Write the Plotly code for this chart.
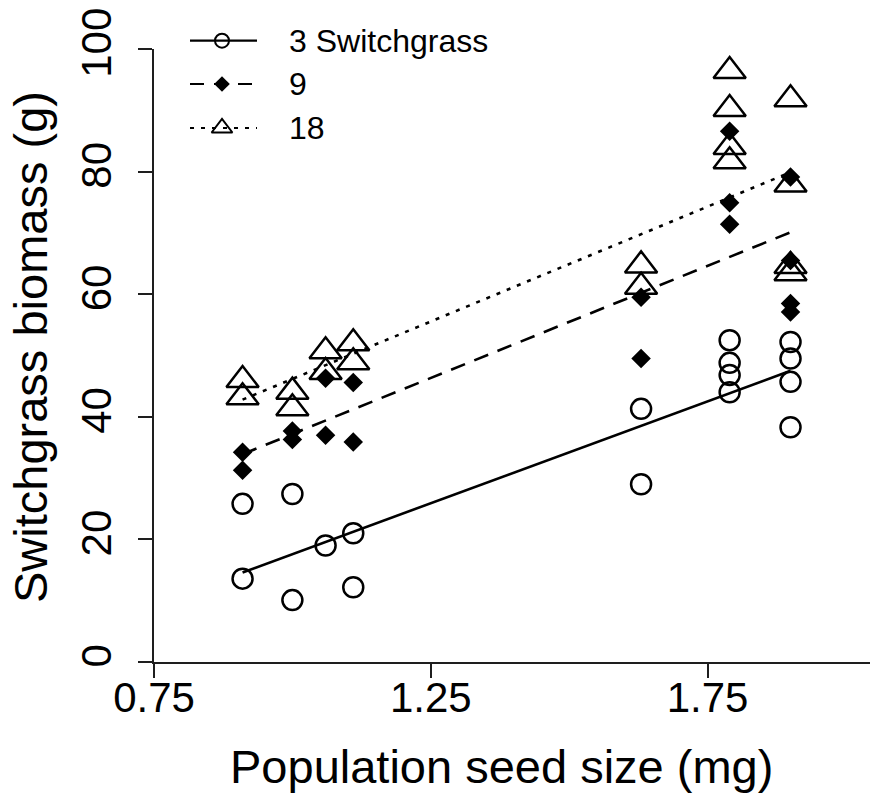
import plotly.graph_objects as go

# Population mean seed size (mg)
seed_size = [0.91, 1.00, 1.06, 1.11, 1.63, 1.79, 1.90]

# Switchgrass biomass (g) at each planting density, grouped by population
biomass_3 = [[25.8, 13.6], [27.4, 10.1], [19.0], [21.0, 12.2], [41.3, 29.0],
             [52.5, 48.8, 46.8, 44.0], [52.2, 49.5, 45.7, 38.3]]
biomass_9 = [[34.2, 31.3], [37.7, 36.3], [46.3, 37.0], [45.6, 35.9], [59.5, 49.5],
             [86.6, 74.9, 71.4], [79.1, 65.5, 58.5, 57.1]]
biomass_18 = [[46.0, 43.2], [44.1, 41.4], [50.7, 47.3], [52.0, 48.9], [64.7, 61.2],
              [96.4, 90.2, 84.0, 81.7], [91.8, 77.9, 64.6, 63.4]]

# Fitted regression lines: biomass at the smallest and largest seed size
fit_3 = [14.6, 47.5]
fit_9 = [33.9, 70.1]
fit_18 = [42.8, 79.9]

legend_labels = ["3 Switchgrass", "9", "18"]

W, H = 870, 797
FONT = "Liberation Sans, Arial, Helvetica, sans-serif"
INK = "black"
AXIS = "#1e1e1e"

# plot box in pixels
PX_L, PX_R, PX_T, PX_B = 154, 870, 49, 662
X0, PX_PER_MG = 0.75, 553.5


def flatten(groups):
    xs, ys = [], []
    for x, vals in zip(seed_size, groups):
        for v in vals:
            xs.append(x)
            ys.append(v)
    return xs, ys


fig = go.Figure()

line_styles = [
    (fit_3, "solid"),
    (fit_9, "15px,10px"),
    (fit_18, "4px,7px"),
]
for fit, dash in line_styles:
    fig.add_trace(go.Scatter(
        x=[seed_size[0], seed_size[-1]], y=fit, mode="lines",
        line=dict(color=INK, width=2.6, dash=dash),
        showlegend=False, hoverinfo="skip"))

x18, y18 = flatten(biomass_18)
fig.add_trace(go.Scatter(
    x=x18, y=y18, mode="markers", showlegend=False,
    marker=dict(symbol="triangle-up-open", size=28, color=INK,
                line=dict(color=INK, width=2.5))))

x3, y3 = flatten(biomass_3)
fig.add_trace(go.Scatter(
    x=x3, y=y3, mode="markers", showlegend=False,
    marker=dict(symbol="circle-open", size=20, color=INK,
                line=dict(color=INK, width=2.5))))

x9, y9 = flatten(biomass_9)
fig.add_trace(go.Scatter(
    x=x9, y=y9, mode="markers", showlegend=False,
    marker=dict(symbol="diamond", size=15, color=INK, line=dict(width=0))))

# Key in the upper left, drawn on a pixel-scaled overlay
key_rows = [40.7, 84.0, 128.0]
key_styles = [
    ("solid", dict(symbol="circle-open", size=14, color=INK, line=dict(color=INK, width=2))),
    ("14px,10px", dict(symbol="diamond", size=12, color=INK, line=dict(width=0))),
    ("4px,7px", dict(symbol="triangle-up-open", size=18, color=INK, line=dict(color=INK, width=2))),
]
for yc, (dash, mk), label in zip(key_rows, key_styles, legend_labels):
    fig.add_trace(go.Scatter(
        x=[190, 257], y=[yc, yc], mode="lines", xaxis="x2", yaxis="y2",
        line=dict(color=INK, width=2.2, dash=dash),
        showlegend=False, hoverinfo="skip"))
    fig.add_trace(go.Scatter(
        x=[222], y=[yc], mode="markers", xaxis="x2", yaxis="y2",
        marker=mk, showlegend=False, hoverinfo="skip"))
    fig.add_annotation(
        x=287 / W, y=1 - yc / H, xref="paper", yref="paper",
        text=label, showarrow=False, xanchor="left", yanchor="middle",
        font=dict(family=FONT, size=32, color=INK))

# Axis titles
fig.add_annotation(
    x=501 / W, y=1 - 766 / H, xref="paper", yref="paper",
    text="Population seed size (mg)", showarrow=False,
    xanchor="center", yanchor="middle",
    font=dict(family=FONT, size=47, color=INK))
fig.add_annotation(
    x=30 / W, y=1 - 347 / H, xref="paper", yref="paper",
    text="Switchgrass biomass (g)", showarrow=False, textangle=-90,
    xanchor="center", yanchor="middle",
    font=dict(family=FONT, size=47, color=INK))

fig.update_layout(
    template="none",
    width=W, height=H,
    margin=dict(l=0, r=0, t=0, b=0, autoexpand=False),
    paper_bgcolor="white", plot_bgcolor="rgba(0,0,0,0)",
    showlegend=False,
    font=dict(family=FONT, color=INK),
    xaxis=dict(
        domain=[PX_L / W, PX_R / W],
        range=[X0, X0 + (PX_R - PX_L) / PX_PER_MG],
        tickvals=[0.75, 1.25, 1.75], ticktext=["0.75", "1.25", "1.75"],
        ticks="outside", ticklen=14, tickwidth=1.5, tickcolor=AXIS,
        showline=True, linecolor=AXIS, linewidth=1.5,
        showgrid=False, zeroline=False, anchor="y", automargin=False,
        ticklabelstandoff=-16,
        tickfont=dict(family=FONT, size=42, color=INK)),
    yaxis=dict(
        domain=[1 - PX_B / H, 1 - PX_T / H],
        range=[0, 100], tickvals=[0, 20, 40, 60, 80, 100],
        tickangle=-90,
        ticks="outside", ticklen=14, tickwidth=1.5, tickcolor=AXIS,
        showline=True, linecolor=AXIS, linewidth=1.5,
        showgrid=False, zeroline=False, anchor="x", automargin=False,
        ticklabelstandoff=10,
        tickfont=dict(family=FONT, size=42, color=INK)),
    xaxis2=dict(domain=[0, 1], range=[0, W], visible=False, anchor="y2",
                fixedrange=True, automargin=False),
    yaxis2=dict(domain=[0, 1], range=[H, 0], visible=False, anchor="x2",
                fixedrange=True, automargin=False),
)

fig.write_html("out.html")
